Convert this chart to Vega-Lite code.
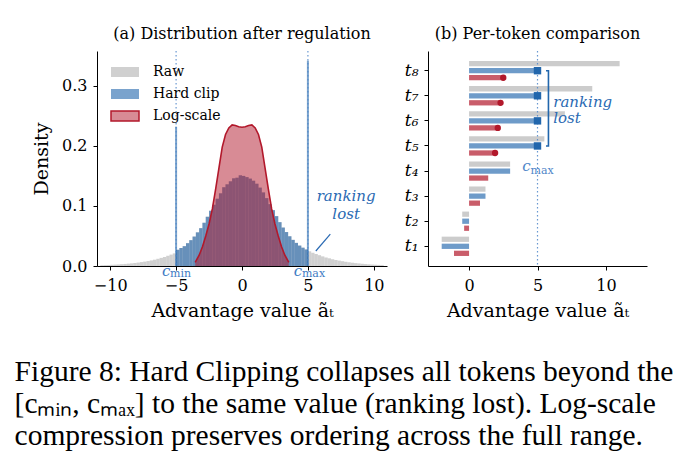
{
  "$schema": "https://vega.github.io/schema/vega-lite/v6.json",
  "padding": {"left": 14, "top": 26, "right": 5, "bottom": 5},
  "datasets": {
    "hist": [
      {"v": -10.625, "raw": 0.0013}, {"v": -10.375, "raw": 0.0015}, {"v": -10.125, "raw": 0.0017},
      {"v": -9.875, "raw": 0.0020}, {"v": -9.625, "raw": 0.0023}, {"v": -9.375, "raw": 0.0026},
      {"v": -9.125, "raw": 0.0030}, {"v": -8.875, "raw": 0.0034}, {"v": -8.625, "raw": 0.0039},
      {"v": -8.375, "raw": 0.0044}, {"v": -8.125, "raw": 0.0050}, {"v": -7.875, "raw": 0.0057},
      {"v": -7.625, "raw": 0.0065}, {"v": -7.375, "raw": 0.0073}, {"v": -7.125, "raw": 0.0082},
      {"v": -6.875, "raw": 0.0093}, {"v": -6.625, "raw": 0.0105}, {"v": -6.375, "raw": 0.0120},
      {"v": -6.125, "raw": 0.0135}, {"v": -5.875, "raw": 0.0150}, {"v": -5.625, "raw": 0.0170},
      {"v": -5.375, "raw": 0.0190}, {"v": -5.125, "raw": 0.0210},
      {"v": -4.875, "raw": 0.0270, "clip": 0.0270}, {"v": -4.625, "raw": 0.0300, "clip": 0.0300},
      {"v": -4.375, "raw": 0.0330, "clip": 0.0330}, {"v": -4.125, "raw": 0.0380, "clip": 0.0380},
      {"v": -3.875, "raw": 0.0430, "clip": 0.0430}, {"v": -3.625, "raw": 0.0490, "clip": 0.0490},
      {"v": -3.375, "raw": 0.0560, "clip": 0.0560}, {"v": -3.125, "raw": 0.0630, "clip": 0.0630},
      {"v": -2.875, "raw": 0.0720, "clip": 0.0720}, {"v": -2.625, "raw": 0.0820, "clip": 0.0820},
      {"v": -2.375, "raw": 0.0920, "clip": 0.0920}, {"v": -2.125, "raw": 0.1020, "clip": 0.1020},
      {"v": -1.875, "raw": 0.1120, "clip": 0.1120}, {"v": -1.625, "raw": 0.1210, "clip": 0.1210},
      {"v": -1.375, "raw": 0.1310, "clip": 0.1310}, {"v": -1.125, "raw": 0.1360, "clip": 0.1360},
      {"v": -0.875, "raw": 0.1410, "clip": 0.1410}, {"v": -0.625, "raw": 0.1460, "clip": 0.1460},
      {"v": -0.375, "raw": 0.1470, "clip": 0.1470}, {"v": -0.125, "raw": 0.1510, "clip": 0.1510},
      {"v": 0.125, "raw": 0.1500, "clip": 0.1500}, {"v": 0.375, "raw": 0.1480, "clip": 0.1480},
      {"v": 0.625, "raw": 0.1455, "clip": 0.1455}, {"v": 0.875, "raw": 0.1420, "clip": 0.1420},
      {"v": 1.125, "raw": 0.1370, "clip": 0.1370}, {"v": 1.375, "raw": 0.1305, "clip": 0.1305},
      {"v": 1.625, "raw": 0.1225, "clip": 0.1225}, {"v": 1.875, "raw": 0.1130, "clip": 0.1130},
      {"v": 2.125, "raw": 0.1030, "clip": 0.1030}, {"v": 2.375, "raw": 0.0930, "clip": 0.0930},
      {"v": 2.625, "raw": 0.0830, "clip": 0.0830}, {"v": 2.875, "raw": 0.0730, "clip": 0.0730},
      {"v": 3.125, "raw": 0.0640, "clip": 0.0640}, {"v": 3.375, "raw": 0.0565, "clip": 0.0565},
      {"v": 3.625, "raw": 0.0495, "clip": 0.0495}, {"v": 3.875, "raw": 0.0435, "clip": 0.0435},
      {"v": 4.125, "raw": 0.0385, "clip": 0.0385}, {"v": 4.375, "raw": 0.0340, "clip": 0.0340},
      {"v": 4.625, "raw": 0.0305, "clip": 0.0305}, {"v": 4.875, "raw": 0.0275, "clip": 0.0275},
      {"v": 5.125, "raw": 0.0245}, {"v": 5.375, "raw": 0.0220}, {"v": 5.625, "raw": 0.0200},
      {"v": 5.875, "raw": 0.0180}, {"v": 6.125, "raw": 0.0160}, {"v": 6.375, "raw": 0.0142},
      {"v": 6.625, "raw": 0.0128}, {"v": 6.875, "raw": 0.0113}, {"v": 7.125, "raw": 0.0100},
      {"v": 7.375, "raw": 0.0090}, {"v": 7.625, "raw": 0.0080}, {"v": 7.875, "raw": 0.0070},
      {"v": 8.125, "raw": 0.0062}, {"v": 8.375, "raw": 0.0055}, {"v": 8.625, "raw": 0.0048},
      {"v": 8.875, "raw": 0.0043}, {"v": 9.125, "raw": 0.0037}, {"v": 9.375, "raw": 0.0032},
      {"v": 9.625, "raw": 0.0028}, {"v": 9.875, "raw": 0.0024}, {"v": 10.125, "raw": 0.0021},
      {"v": 10.375, "raw": 0.0018}, {"v": 10.625, "raw": 0.0015}
    ],
    "spikes": [
      {"v": -5, "h": 0.232},
      {"v": 5, "h": 0.342}
    ],
    "logkde": [
      {"v": -3.55, "d": 0.006}, {"v": -3.5, "d": 0.008}, {"v": -3.25, "d": 0.018},
      {"v": -3.0, "d": 0.032}, {"v": -2.75, "d": 0.050}, {"v": -2.5, "d": 0.070},
      {"v": -2.25, "d": 0.095}, {"v": -2.0, "d": 0.128}, {"v": -1.75, "d": 0.163},
      {"v": -1.5, "d": 0.198}, {"v": -1.25, "d": 0.219}, {"v": -1.0, "d": 0.230},
      {"v": -0.75, "d": 0.235}, {"v": -0.5, "d": 0.234}, {"v": -0.25, "d": 0.232},
      {"v": 0.0, "d": 0.231}, {"v": 0.25, "d": 0.232}, {"v": 0.5, "d": 0.234},
      {"v": 0.75, "d": 0.235}, {"v": 1.0, "d": 0.230}, {"v": 1.25, "d": 0.219},
      {"v": 1.5, "d": 0.198}, {"v": 1.75, "d": 0.163}, {"v": 2.0, "d": 0.128},
      {"v": 2.25, "d": 0.095}, {"v": 2.5, "d": 0.070}, {"v": 2.75, "d": 0.050},
      {"v": 3.0, "d": 0.032}, {"v": 3.25, "d": 0.018}, {"v": 3.5, "d": 0.008},
      {"v": 3.55, "d": 0.006}
    ],
    "bounds": [
      {"v": -5, "sub": "min"},
      {"v": 5, "sub": "max"}
    ],
    "tokens": [
      {"tok": "t₁", "s": "Raw", "val": -2.0}, {"tok": "t₁", "s": "Hard clip", "val": -2.0}, {"tok": "t₁", "s": "Log-scale", "val": -1.1},
      {"tok": "t₂", "s": "Raw", "val": -0.5}, {"tok": "t₂", "s": "Hard clip", "val": -0.5}, {"tok": "t₂", "s": "Log-scale", "val": -0.36},
      {"tok": "t₃", "s": "Raw", "val": 1.2}, {"tok": "t₃", "s": "Hard clip", "val": 1.2}, {"tok": "t₃", "s": "Log-scale", "val": 0.8},
      {"tok": "t₄", "s": "Raw", "val": 3.0}, {"tok": "t₄", "s": "Hard clip", "val": 3.0}, {"tok": "t₄", "s": "Log-scale", "val": 1.4},
      {"tok": "t₅", "s": "Raw", "val": 5.5}, {"tok": "t₅", "s": "Hard clip", "val": 5.0}, {"tok": "t₅", "s": "Log-scale", "val": 1.9},
      {"tok": "t₆", "s": "Raw", "val": 7.0}, {"tok": "t₆", "s": "Hard clip", "val": 5.0}, {"tok": "t₆", "s": "Log-scale", "val": 2.1},
      {"tok": "t₇", "s": "Raw", "val": 9.0}, {"tok": "t₇", "s": "Hard clip", "val": 5.0}, {"tok": "t₇", "s": "Log-scale", "val": 2.3},
      {"tok": "t₈", "s": "Raw", "val": 11.0}, {"tok": "t₈", "s": "Hard clip", "val": 5.0}, {"tok": "t₈", "s": "Log-scale", "val": 2.5}
    ],
    "bracket": [
      {"b": 5.62, "tok": "t₈", "k": 1},
      {"b": 5.8, "tok": "t₈", "k": 2},
      {"b": 5.8, "tok": "t₅", "k": 3},
      {"b": 5.62, "tok": "t₅", "k": 4}
    ]
  },
  "title": {
    "text": [
      "Figure 8: Hard Clipping collapses all tokens beyond the",
      "[cₘᵢₙ, cₘₐₓ] to the same value (ranking lost). Log-scale",
      "compression preserves ordering across the full range."
    ],
    "orient": "bottom",
    "anchor": "start",
    "font": "Liberation Serif",
    "fontSize": 29.5,
    "fontWeight": "normal",
    "lineHeight": 32,
    "offset": 37,
    "dx": -18,
    "color": "#000000"
  },
  "spacing": 17,
  "resolve": {"scale": {"color": "independent", "x": "independent", "y": "independent"}},
  "hconcat": [
    {
      "width": 290,
      "height": 215,
      "title": {"text": "(a) Distribution after regulation", "fontSize": 16, "fontWeight": "normal", "offset": 8, "anchor": "middle", "frame": "group", "color": "#000000"},
      "layer": [
        {
          "data": {"name": "hist"},
          "mark": {"type": "bar", "orient": "vertical", "size": 3.3},
          "encoding": {
            "x": {"field": "v", "type": "quantitative", "scale": {"domain": [-11, 11], "nice": false, "padding": 0},
              "axis": {"values": [-10, -5, 0, 5, 10], "format": "d", "title": "Advantage value ãₜ", "titlePadding": 8, "labelPadding": 7.5}},
            "y": {"field": "raw", "type": "quantitative", "scale": {"domain": [0, 0.358], "nice": false, "padding": 0},
              "axis": {"values": [0, 0.1, 0.2, 0.3], "format": ".1f", "title": "Density", "titlePadding": 10, "labelPadding": 6}},
            "fill": {"datum": "Raw", "type": "nominal",
              "scale": {"domain": ["Raw", "Hard clip", "Log-scale"], "range": ["rgba(170,170,170,0.55)", "rgba(33,102,172,0.6)", "rgba(178,24,43,0.5)"]},
              "legend": {"title": null, "orient": "none", "legendX": 17, "legendY": 10, "padding": 0, "symbolType": "M-1.4,-0.5H1.4V0.5H-1.4Z", "symbolSize": 400, "labelFontSize": 14, "labelOffset": 17, "rowPadding": 3, "symbolStrokeWidth": 1.5}}
          }
        },
        {
          "data": {"name": "hist"},
          "transform": [{"filter": "isValid(datum.clip)"}],
          "mark": {"type": "bar", "orient": "vertical", "size": 3.3},
          "encoding": {
            "x": {"field": "v", "type": "quantitative"},
            "y": {"field": "clip", "type": "quantitative"},
            "fill": {"datum": "Hard clip", "type": "nominal"}
          }
        },
        {
          "data": {"name": "spikes"},
          "mark": {"type": "bar", "orient": "vertical", "size": 2},
          "encoding": {
            "x": {"field": "v", "type": "quantitative"},
            "y": {"field": "h", "type": "quantitative"},
            "fill": {"datum": "Hard clip", "type": "nominal"}
          }
        },
        {
          "data": {"name": "logkde"},
          "mark": {"type": "area"},
          "encoding": {
            "x": {"field": "v", "type": "quantitative"},
            "y": {"field": "d", "type": "quantitative"},
            "fill": {"datum": "Log-scale", "type": "nominal"}
          }
        },
        {
          "data": {"name": "logkde"},
          "mark": {"type": "line", "strokeWidth": 1.6},
          "encoding": {
            "x": {"field": "v", "type": "quantitative"},
            "y": {"field": "d", "type": "quantitative"},
            "stroke": {"datum": "Log-scale", "type": "nominal",
              "scale": {"domain": ["Raw", "Hard clip", "Log-scale"], "range": ["rgba(0,0,0,0)", "rgba(0,0,0,0)", "#b2182b"]},
              "legend": {"title": null, "orient": "none", "legendX": 17, "legendY": 10, "padding": 0, "symbolType": "M-1.4,-0.5H1.4V0.5H-1.4Z", "symbolSize": 400, "labelFontSize": 14, "labelOffset": 17, "rowPadding": 3, "symbolStrokeWidth": 1.5}}
          }
        },
        {
          "data": {"name": "bounds"},
          "mark": {"type": "rule", "color": "#4f86c9", "strokeDash": [1.5, 2.5], "strokeWidth": 1.2, "opacity": 0.85},
          "encoding": {"x": {"field": "v", "type": "quantitative"}}
        },
        {
          "data": {"name": "bounds"},
          "mark": {"type": "text", "text": "c", "fontStyle": "italic", "fontSize": 15, "color": "#3f7cc4", "align": "center", "baseline": "alphabetic", "dx": -10, "dy": 9.5},
          "encoding": {"x": {"field": "v", "type": "quantitative"}, "y": {"datum": 0, "type": "quantitative"}}
        },
        {
          "data": {"name": "bounds"},
          "mark": {"type": "text", "fontSize": 11, "color": "#3f7cc4", "align": "left", "baseline": "alphabetic", "dx": -6, "dy": 11},
          "encoding": {"x": {"field": "v", "type": "quantitative"}, "y": {"datum": 0, "type": "quantitative"}, "text": {"field": "sub"}}
        },
        {
          "data": {"values": [{}]},
          "mark": {"type": "text", "text": ["ranking", "lost"], "lineHeight": 18, "fontStyle": "italic", "fontSize": 15, "color": "#2a6ab3", "align": "center", "baseline": "alphabetic"},
          "encoding": {"x": {"datum": 7.9, "type": "quantitative"}, "y": {"datum": 0.108, "type": "quantitative"}}
        },
        {
          "data": {"values": [{}]},
          "mark": {"type": "rule", "color": "#2a6ab3", "strokeWidth": 1.2},
          "encoding": {
            "x": {"datum": 5.6, "type": "quantitative"}, "y": {"datum": 0.025, "type": "quantitative"},
            "x2": {"datum": 6.7}, "y2": {"datum": 0.053}
          }
        }
      ]
    },
    {
      "width": 219,
      "height": 215,
      "title": {"text": "(b) Per-token comparison", "fontSize": 16, "fontWeight": "normal", "offset": 8, "anchor": "middle", "frame": "group", "color": "#000000"},
      "layer": [
        {
          "data": {"name": "tokens"},
          "mark": {"type": "bar"},
          "encoding": {
            "y": {"field": "tok", "type": "nominal",
              "scale": {"domain": ["t₈", "t₇", "t₆", "t₅", "t₄", "t₃", "t₂", "t₁"], "paddingInner": 0.16, "paddingOuter": 0.365},
              "axis": {"title": null, "labelFontStyle": "italic", "labelFontSize": 17, "labelPadding": 6}},
            "yOffset": {"field": "s", "type": "nominal", "scale": {"domain": ["Raw", "Hard clip", "Log-scale"], "paddingInner": 0.25, "paddingOuter": 0.125}},
            "x": {"field": "val", "type": "quantitative", "scale": {"domain": [-3, 13], "nice": false},
              "axis": {"values": [0, 5, 10], "format": "d", "title": "Advantage value ãₜ", "titlePadding": 8, "labelPadding": 7.5}},
            "color": {"field": "s", "type": "nominal",
              "scale": {"domain": ["Raw", "Hard clip", "Log-scale"], "range": ["rgba(170,170,170,0.6)", "rgba(33,102,172,0.65)", "rgba(178,24,43,0.7)"]},
              "legend": null}
          }
        },
        {
          "data": {"values": [{}]},
          "mark": {"type": "rule", "color": "#4f86c9", "strokeDash": [1.5, 2.5], "strokeWidth": 1.2, "opacity": 0.85},
          "encoding": {"x": {"datum": 5, "type": "quantitative"}}
        },
        {
          "data": {"name": "tokens"},
          "transform": [{"filter": "datum.s == 'Hard clip' && datum.val >= 5"}],
          "mark": {"type": "point", "shape": "square", "filled": true, "size": 55, "color": "#2166ac", "opacity": 1},
          "encoding": {
            "x": {"field": "val", "type": "quantitative"},
            "y": {"field": "tok", "type": "nominal"}
          }
        },
        {
          "data": {"name": "tokens"},
          "transform": [{"filter": "datum.s == 'Log-scale' && datum.val > 1.5"}],
          "mark": {"type": "point", "shape": "circle", "filled": true, "size": 40, "color": "#b2182b", "opacity": 1},
          "encoding": {
            "x": {"field": "val", "type": "quantitative"},
            "y": {"field": "tok", "type": "nominal"},
            "yOffset": {"field": "s", "type": "nominal"}
          }
        },
        {
          "data": {"name": "bracket"},
          "mark": {"type": "line", "color": "#2166ac", "strokeWidth": 1.6},
          "encoding": {
            "x": {"field": "b", "type": "quantitative"},
            "y": {"field": "tok", "type": "nominal"},
            "order": {"field": "k"}
          }
        },
        {
          "data": {"values": [{}]},
          "mark": {"type": "text", "text": "c", "fontStyle": "italic", "fontSize": 15, "color": "#4f86c9", "align": "center", "baseline": "alphabetic", "dx": -11, "dy": 0},
          "encoding": {"x": {"datum": 5, "type": "quantitative"}, "y": {"datum": "t₄", "type": "nominal"}}
        },
        {
          "data": {"values": [{}]},
          "mark": {"type": "text", "text": "max", "fontSize": 11, "color": "#4f86c9", "align": "left", "baseline": "alphabetic", "dx": -7, "dy": 3},
          "encoding": {"x": {"datum": 5, "type": "quantitative"}, "y": {"datum": "t₄", "type": "nominal"}}
        },
        {
          "data": {"values": [{}]},
          "mark": {"type": "text", "text": ["ranking", "lost"], "lineHeight": 16, "fontStyle": "italic", "fontSize": 15, "color": "#2a6ab3", "align": "left", "baseline": "alphabetic", "dy": 11},
          "encoding": {"x": {"datum": 6.15, "type": "quantitative"}, "y": {"datum": "t₇", "type": "nominal"}}
        }
      ]
    }
  ],
  "config": {
    "font": "DejaVu Serif",
    "view": {"stroke": null},
    "axis": {
      "grid": false,
      "domainColor": "#000000",
      "domainWidth": 1,
      "tickColor": "#000000",
      "tickSize": 4,
      "labelColor": "#000000",
      "labelFontSize": 16,
      "labelPadding": 4,
      "titleColor": "#000000",
      "titleFontSize": 19,
      "titleFontWeight": "normal"
    },
    "legend": {"labelColor": "#000000", "labelFont": "DejaVu Serif"}
  }
}
